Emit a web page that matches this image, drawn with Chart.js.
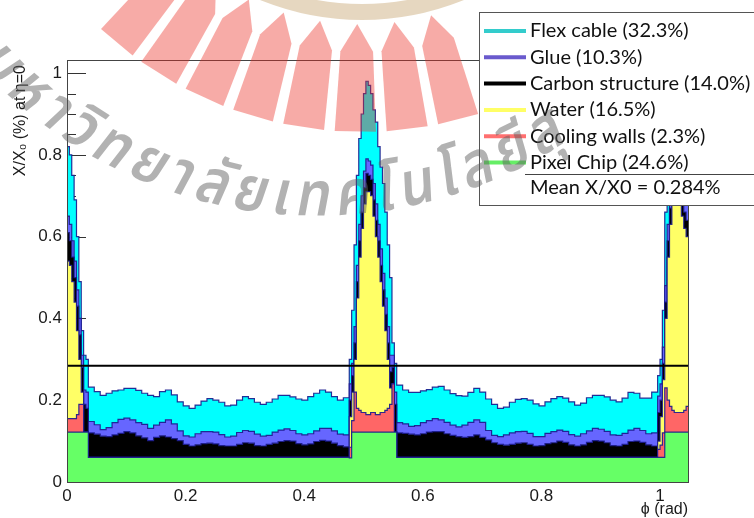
<!DOCTYPE html>
<html>
<head>
<meta charset="utf-8">
<script src="https://cdn.jsdelivr.net/npm/chart.js@4.4.1/dist/chart.umd.min.js"></script>
<style>
  html, body { margin: 0; padding: 0; background: #fff; }
  #wrap { width: 754px; height: 518px; position: relative; }
</style>
</head>
<body>
<div id="wrap"><canvas id="chart" width="754" height="518"></canvas></div>
<script>
// bin left edges in phi (rad); last bin closes at phiMax
const phiBins = [
  0, 0.004, 0.008, 0.012, 0.016, 0.020, 0.024, 0.028, 0.032,
  0.036, 0.046, 0.056, 0.066, 0.076, 0.086, 0.096, 0.106, 0.116, 0.126, 0.136,
  0.146, 0.156, 0.166, 0.176, 0.186, 0.196, 0.206, 0.216, 0.226, 0.236, 0.246,
  0.256, 0.266, 0.276, 0.286, 0.296, 0.306, 0.316, 0.326, 0.336, 0.346, 0.356,
  0.366, 0.376, 0.386, 0.396, 0.406, 0.416, 0.426, 0.436, 0.446, 0.456, 0.466,
  0.476, 0.480, 0.484, 0.488, 0.492, 0.496, 0.500, 0.504, 0.508, 0.512, 0.516,
  0.520, 0.524, 0.528, 0.532, 0.536, 0.540, 0.544, 0.548, 0.552,
  0.556, 0.566, 0.576, 0.586, 0.596, 0.606, 0.616, 0.626, 0.636, 0.646, 0.656,
  0.666, 0.676, 0.686, 0.696, 0.706, 0.716, 0.726, 0.736, 0.746, 0.756, 0.766,
  0.776, 0.786, 0.796, 0.806, 0.816, 0.826, 0.836, 0.846, 0.856, 0.866, 0.876,
  0.886, 0.896, 0.906, 0.916, 0.926, 0.936, 0.946, 0.956, 0.966, 0.976, 0.986,
  0.996, 1.000, 1.004, 1.008, 1.012, 1.016, 1.020, 1.024, 1.028, 1.032, 1.036, 1.040, 1.044
];
const phiMax = 1.0472;

// X/X0 (%) contribution of each material per bin (stacked bottom to top)
const pixelChip = [
  0.122, 0.122, 0.122, 0.122, 0.122, 0.122, 0.122, 0.122, 0.122,
  0.06, 0.06, 0.06, 0.06, 0.06, 0.06, 0.06, 0.06, 0.06, 0.06, 0.06,
  0.06, 0.06, 0.06, 0.06, 0.06, 0.06, 0.06, 0.06, 0.06, 0.06, 0.06,
  0.06, 0.06, 0.06, 0.06, 0.06, 0.06, 0.06, 0.06, 0.06, 0.06, 0.06,
  0.06, 0.06, 0.06, 0.06, 0.06, 0.06, 0.06, 0.06, 0.06, 0.06, 0.06,
  0.059, 0.122, 0.122, 0.122, 0.122, 0.122, 0.122, 0.122, 0.122, 0.122, 0.122,
  0.122, 0.122, 0.122, 0.122, 0.122, 0.122, 0.122, 0.122, 0.122,
  0.06, 0.06, 0.06, 0.06, 0.06, 0.06, 0.06, 0.06, 0.06, 0.06, 0.06,
  0.06, 0.06, 0.06, 0.06, 0.06, 0.06, 0.06, 0.06, 0.06, 0.06, 0.06,
  0.06, 0.06, 0.06, 0.06, 0.06, 0.06, 0.06, 0.06, 0.06, 0.06, 0.06,
  0.06, 0.06, 0.06, 0.06, 0.06, 0.06, 0.06, 0.06, 0.06, 0.06, 0.06,
  0.06, 0.06, 0.06, 0.122, 0.122, 0.122, 0.122, 0.122, 0.122, 0.122, 0.122, 0.122, 0.122
];
const coolingWalls = [
  0.033, 0.033, 0.033, 0.033, 0.043, 0.068, 0.068, 0, 0,
  0, 0, 0, 0, 0, 0, 0, 0, 0, 0, 0,
  0, 0, 0, 0, 0, 0, 0, 0, 0, 0, 0,
  0, 0, 0, 0, 0, 0, 0, 0, 0, 0, 0,
  0, 0, 0, 0, 0, 0, 0, 0, 0, 0, 0,
  0.026, 0.028, 0.098, 0.058, 0.053, 0.048, 0.048, 0.043, 0.043, 0.048, 0.048,
  0.043, 0.043, 0.048, 0.048, 0.053, 0.058, 0.068, 0.118, 0,
  0, 0, 0, 0, 0, 0, 0, 0, 0, 0, 0,
  0, 0, 0, 0, 0, 0, 0, 0, 0, 0, 0,
  0, 0, 0, 0, 0, 0, 0, 0, 0, 0, 0,
  0, 0, 0, 0, 0, 0, 0, 0, 0, 0, 0,
  0.02, 0.03, 0.06, 0.108, 0.078, 0.063, 0.053, 0.048, 0.048, 0.048, 0.048, 0.053, 0.063
];
const water = [
  0.385, 0.375, 0.335, 0.285, 0.205, 0.11, 0.03, 0, 0,
  0, 0, 0, 0, 0, 0, 0, 0, 0, 0, 0,
  0, 0, 0, 0, 0, 0, 0, 0, 0, 0, 0,
  0, 0, 0, 0, 0, 0, 0, 0, 0, 0, 0,
  0, 0, 0, 0, 0, 0, 0, 0, 0, 0, 0,
  0.075, 0.07, 0.08, 0.27, 0.375, 0.45, 0.51, 0.545, 0.545, 0.53, 0.48,
  0.435, 0.385, 0.32, 0.26, 0.195, 0.12, 0.04, 0, 0,
  0, 0, 0, 0, 0, 0, 0, 0, 0, 0, 0,
  0, 0, 0, 0, 0, 0, 0, 0, 0, 0, 0,
  0, 0, 0, 0, 0, 0, 0, 0, 0, 0, 0,
  0, 0, 0, 0, 0, 0, 0, 0, 0, 0, 0,
  0.02, 0.07, 0.13, 0.17, 0.35, 0.445, 0.505, 0.53, 0.53, 0.51, 0.48, 0.445, 0.415
];
const carbonStructure = [
  0.07, 0.06, 0.06, 0.06, 0.06, 0.06, 0.06, 0.068, 0.058,
  0.060, 0.057, 0.052, 0.051, 0.055, 0.059, 0.063, 0.060, 0.053, 0.048, 0.041,
  0.049, 0.053, 0.050, 0.046, 0.041, 0.032, 0.028, 0.031, 0.034, 0.035, 0.033,
  0.029, 0.028, 0.028, 0.032, 0.036, 0.035, 0.029, 0.028, 0.032, 0.035, 0.039,
  0.041, 0.040, 0.034, 0.031, 0.033, 0.039, 0.042, 0.040, 0.035, 0.029, 0.026,
  0.04, 0.04, 0.04, 0.04, 0.04, 0.04, 0.04, 0.045, 0.04, 0.04, 0.04,
  0.04, 0.04, 0.04, 0.04, 0.04, 0.04, 0.04, 0.04, 0.068,
  0.060, 0.059, 0.057, 0.055, 0.058, 0.062, 0.063, 0.063, 0.058, 0.054, 0.051,
  0.049, 0.051, 0.055, 0.049, 0.043, 0.036, 0.032, 0.030, 0.032, 0.035, 0.036,
  0.032, 0.028, 0.029, 0.034, 0.036, 0.040, 0.037, 0.031, 0.028, 0.031, 0.037,
  0.041, 0.040, 0.036, 0.029, 0.028, 0.032, 0.039, 0.040, 0.037, 0.031, 0.028,
  0.07, 0.04, 0.04, 0.04, 0.04, 0.04, 0.04, 0.045, 0.04, 0.04, 0.04, 0.04, 0.04
];
const glue = [
  0.04, 0.04, 0.04, 0.04, 0.04, 0.04, 0.03, 0.035, 0.04,
  0.028, 0.023, 0.016, 0.022, 0.030, 0.034, 0.033, 0.032, 0.032, 0.033, 0.030,
  0.030, 0.033, 0.042, 0.036, 0.024, 0.021, 0.022, 0.027, 0.029, 0.028, 0.029,
  0.027, 0.022, 0.024, 0.029, 0.030, 0.029, 0.028, 0.024, 0.022, 0.027, 0.028,
  0.029, 0.026, 0.024, 0.024, 0.025, 0.026, 0.029, 0.031, 0.030, 0.028, 0.029,
  0.04, 0.03, 0.04, 0.04, 0.04, 0.04, 0.04, 0.035, 0.035, 0.035, 0.04,
  0.04, 0.04, 0.04, 0.04, 0.04, 0.04, 0.04, 0.03, 0.03,
  0.025, 0.023, 0.019, 0.023, 0.027, 0.028, 0.032, 0.029, 0.028, 0.025, 0.024,
  0.030, 0.035, 0.037, 0.037, 0.023, 0.018, 0.019, 0.025, 0.028, 0.028, 0.028,
  0.027, 0.023, 0.022, 0.025, 0.027, 0.027, 0.027, 0.025, 0.024, 0.027, 0.028,
  0.030, 0.029, 0.028, 0.026, 0.026, 0.027, 0.028, 0.031, 0.029, 0.027, 0.032,
  0.04, 0.04, 0.04, 0.04, 0.04, 0.04, 0.04, 0.035, 0.04, 0.04, 0.04, 0.04, 0.04
];
const flexCable = [
  0.17, 0.17, 0.16, 0.15, 0.13, 0.09, 0.06, 0.085, 0.08,
  0.084, 0.081, 0.084, 0.084, 0.078, 0.072, 0.073, 0.077, 0.079, 0.076, 0.081,
  0.070, 0.075, 0.073, 0.071, 0.071, 0.073, 0.070, 0.070, 0.075, 0.081, 0.078,
  0.079, 0.076, 0.076, 0.079, 0.083, 0.080, 0.078, 0.078, 0.081, 0.081, 0.085,
  0.082, 0.082, 0.085, 0.085, 0.091, 0.092, 0.094, 0.089, 0.084, 0.083, 0.091,
  0.06, 0.13, 0.20, 0.22, 0.21, 0.20, 0.19, 0.19, 0.185, 0.175, 0.18,
  0.20, 0.19, 0.20, 0.22, 0.21, 0.20, 0.19, 0.03, 0.07,
  0.092, 0.083, 0.083, 0.081, 0.078, 0.076, 0.077, 0.082, 0.079, 0.077, 0.076,
  0.071, 0.073, 0.077, 0.074, 0.077, 0.076, 0.069, 0.068, 0.075, 0.079, 0.080,
  0.081, 0.080, 0.075, 0.077, 0.081, 0.082, 0.081, 0.080, 0.076, 0.075, 0.081,
  0.081, 0.083, 0.084, 0.085, 0.082, 0.086, 0.092, 0.086, 0.079, 0.087, 0.100,
  0.05, 0.06, 0.09, 0.18, 0.17, 0.18, 0.18, 0.19, 0.19, 0.19, 0.19, 0.18, 0.17
];

const seriesLabels = ['Pixel Chip (24.6%)', 'Cooling walls (2.3%)', 'Water (16.5%)',
  'Carbon structure (14.0%)', 'Glue (10.3%)', 'Flex cable (32.3%)'];
const meanX0 = 0.284;
const meanLabel = 'Mean X/X0 = 0.284%';
const xTicks = [0, 0.2, 0.4, 0.6, 0.8, 1];
const yTicks = [0, 0.2, 0.4, 0.6, 0.8, 1];
const yMax = 1.032;
// visible part of the watermark lettering, split into glyph clusters
const watermarkText = ['ม', 'ห', 'า', 'วิ', 'ท', 'ย', 'า', 'ลั', 'ย', 'เ', 'ท', 'ค', 'โ', 'น', 'โ', 'ล', 'ยี', 'สุ'];

const fills = ['#66ff66', '#ff6666', '#ffff66', '#000000', '#6666ff', '#00ffff'];
const legendLines = ['#66ee66', '#ff7070', '#ffff66', '#000000', '#6a5acd', '#33cccc'];
const outline = 'rgba(24,24,140,0.9)';

function toSteps(values) {
  const pts = phiBins.map((x, i) => ({ x: x, y: values[i] }));
  pts.push({ x: phiMax, y: values[values.length - 1] });
  return pts;
}

const stackValues = [pixelChip, coolingWalls, water, carbonStructure, glue, flexCable];
const datasets = stackValues.map((vals, i) => ({
  label: seriesLabels[i],
  data: toSteps(vals),
  stepped: true,
  fill: i === 0 ? 'origin' : '-1',
  backgroundColor: fills[i],
  borderColor: outline,
  borderWidth: 1.2,
  pointRadius: 0,
  stack: 'materials',
  legendColor: legendLines[i]
}));
datasets.push({
  label: meanLabel,
  data: [{ x: 0, y: meanX0 }, { x: phiMax, y: meanX0 }],
  borderColor: '#000',
  borderWidth: 2,
  pointRadius: 0,
  fill: false,
  stack: 'mean',
  order: -1
});

const rootAxes = {
  id: 'rootAxes',
  beforeDatasetsDraw(chart) {
    const { ctx, chartArea: a, scales: { y } } = chart;
    ctx.save();
    ctx.strokeStyle = '#333';
    ctx.lineWidth = 1;
    for (let k = 0; k <= 20; k++) {
      const py = Math.round(y.getPixelForValue(k * 0.05)) + 0.5;
      const len = k % 4 === 0 ? 19 : 9;
      ctx.beginPath();
      ctx.moveTo(a.left, py);
      ctx.lineTo(a.left + len, py);
      ctx.stroke();
    }
    ctx.restore();
  },
  afterDatasetsDraw(chart) {
    const { ctx, chartArea: a } = chart;
    ctx.save();
    ctx.strokeStyle = '#444';
    ctx.lineWidth = 1;
    ctx.strokeRect(a.left + 0.5, a.top + 0.5, a.right - a.left, a.bottom - a.top);
    ctx.fillStyle = '#1a1a1a';
    ctx.font = '16px "Liberation Sans", Arial, sans-serif';
    ctx.textAlign = 'right';
    ctx.textBaseline = 'middle';
    ctx.fillText('\u03D5 (rad)', a.right, 510);
    ctx.translate(21, 65);
    ctx.rotate(-Math.PI / 2);
    ctx.fillText('X/X\u2080 (%) at \u03B7=0', 0, 0);
    ctx.restore();
  }
};

const rootLegend = {
  id: 'rootLegend',
  afterDraw(chart) {
    const ctx = chart.ctx;
    ctx.save();
    ctx.fillStyle = '#fff';
    ctx.fillRect(479, 12, 280, 193);
    ctx.strokeStyle = '#555';
    ctx.lineWidth = 1;
    ctx.strokeRect(479.5, 12.5, 280, 193);
    ctx.font = '20px Lato, "Open Sans", sans-serif';
    ctx.textBaseline = 'middle';
    ctx.textAlign = 'left';
    [5, 4, 3, 2, 1, 0].forEach((di, r) => {
      const ds = chart.data.datasets[di];
      const yy = 31 + r * 26.3;
      ctx.strokeStyle = ds.legendColor;
      ctx.lineWidth = 4;
      ctx.beginPath();
      ctx.moveTo(484, yy);
      ctx.lineTo(526, yy);
      ctx.stroke();
      ctx.fillStyle = '#111';
      ctx.fillText(ds.label, 530, yy);
    });
    ctx.strokeStyle = '#444';
    ctx.lineWidth = 1;
    ctx.beginPath();
    ctx.moveTo(525, 174.5);
    ctx.lineTo(754, 174.5);
    ctx.stroke();
    ctx.fillStyle = '#111';
    ctx.fillText(chart.data.datasets[6].label, 530, 188);
    ctx.restore();
  }
};

// faint university watermark: emblem under the legend, lettering on top
const watermark = {
  id: 'watermark',
  afterDatasetsDraw(chart) {
    const ctx = chart.ctx;
    ctx.save();
    const cx = 362, cy = -250;
    ctx.strokeStyle = 'rgba(190,150,90,0.38)';
    ctx.lineWidth = 16;
    ctx.beginPath();
    ctx.arc(cx, cy, 262, 0, Math.PI);
    ctx.stroke();
    ctx.fillStyle = 'rgba(235,45,35,0.4)';
    const half = 3.1 * Math.PI / 180;
    const p = (r, a) => [cx + r * Math.sin(a), cy + r * Math.cos(a)];
    for (let k = -5; k <= 2; k++) {
      const t = (k * 7.8 - 1) * Math.PI / 180;
      const pts = [p(274, t), p(302, t - half), p(382, t - half), p(382, t + half), p(302, t + half)];
      ctx.beginPath();
      pts.forEach(([x, y], i) => (i ? ctx.lineTo(x, y) : ctx.moveTo(x, y)));
      ctx.closePath();
      ctx.fill();
    }
    ctx.restore();
  },
  afterDraw(chart) {
    const ctx = chart.ctx;
    ctx.save();
    const tx = 317, ty = -240, R = 443, sx = 0.88;
    const deg = Math.PI / 180;
    ctx.font = '600 62px "Noto Sans Thai", "Loma", "Garuda", sans-serif';
    ctx.fillStyle = 'rgba(95,95,95,0.48)';
    ctx.textAlign = 'center';
    ctx.textBaseline = 'middle';
    const w = watermarkText.map(c => ctx.measureText(c).width * sx);
    // spread the clusters so the second sits at -41 deg and the last at 31.5 deg
    const last = w.length - 1;
    let inner = 0;
    for (let j = 1; j < last; j++) inner += w[j];
    const gap = ((72.5 * deg) * R - inner - (w[last] - w[1]) / 2) / (last - 1);
    const centers = [];
    let pos = 0;
    w.forEach((wi) => { centers.push(pos + wi / 2); pos += wi + gap; });
    watermarkText.forEach((ch, i) => {
      const ang = -41 * deg + (centers[i] - centers[1]) / R;
      ctx.save();
      ctx.translate(tx + R * Math.sin(ang), ty + R * Math.cos(ang));
      ctx.rotate(-ang);
      ctx.transform(1, 0, -0.18, 1, 0, 0);
      ctx.scale(sx, 1);
      ctx.fillText(ch, 0, 0);
      ctx.restore();
    });
    ctx.restore();
  }
};

new Chart(document.getElementById('chart'), {
  type: 'line',
  data: { datasets: datasets },
  options: {
    responsive: false,
    devicePixelRatio: 1,
    animation: false,
    layout: { padding: { top: 60, right: 66, left: 0, bottom: 0 } },
    plugins: { legend: { display: false }, tooltip: { enabled: false } },
    scales: {
      x: {
        type: 'linear',
        min: 0,
        max: phiMax,
        grid: { display: false, drawTicks: false },
        border: { display: false },
        afterBuildTicks: s => { s.ticks = xTicks.map(v => ({ value: v })); },
        afterFit: s => { s.height = 36; },
        ticks: {
          padding: 4,
          color: '#1a1a1a',
          font: { family: '"Liberation Sans", Arial, sans-serif', size: 17 },
          callback: v => String(v)
        }
      },
      y: {
        stacked: true,
        min: 0,
        max: yMax,
        grid: { display: false, drawTicks: false },
        border: { display: false },
        afterBuildTicks: s => { s.ticks = yTicks.map(v => ({ value: v })); },
        afterFit: s => { s.width = 67; },
        ticks: {
          padding: 5,
          color: '#1a1a1a',
          font: { family: '"Liberation Sans", Arial, sans-serif', size: 17 },
          callback: v => String(v)
        }
      }
    }
  },
  plugins: [rootAxes, rootLegend, watermark]
});
</script>
</body>
</html>
